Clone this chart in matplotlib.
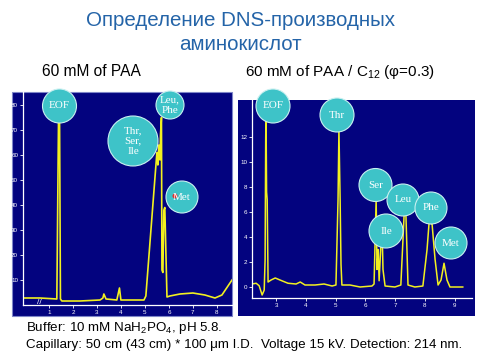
import matplotlib
matplotlib.use('Agg')
import matplotlib.pyplot as plt
from matplotlib.patches import Circle, Rectangle

plt.rcParams['font.family'] = ['Liberation Sans', 'DejaVu Sans']
plt.rcParams['mathtext.fontset'] = 'custom'
plt.rcParams['mathtext.rm'] = 'Liberation Sans'

# Left electropherogram: 60 mM PAA (trace vertices)
left_t = [-0.08, 0.63, 1.33, 1.40, 1.44, 1.48, 1.54, 2.29, 3.13, 3.25, 3.29, 3.38,
          3.83, 3.94, 4.00, 4.96, 5.04, 5.50, 5.54, 5.58, 5.63, 5.65, 5.69, 5.71,
          5.75, 5.79, 5.83, 5.92, 6.04, 6.46, 7.00, 7.50, 7.92, 8.21, 8.63]
left_s = [2.8, 2.8, 2.4, 74, 82, 2.4, 1.6, 1.6, 2.0, 2.8, 4.4, 2.4,
          2.0, 6.8, 2.0, 2.0, 3.6, 61, 56, 64, 58, 68, 75, 14,
          13, 38, 39, 3.2, 3.6, 4.4, 4.8, 4.0, 2.8, 4.0, 10]
left_yticks = [10, 20, 30, 40, 50, 60, 70, 80]
left_xticks = [1, 2, 3, 4, 5, 6, 7, 8]

# Right electropherogram: 60 mM PAA / C12
right_t = [2.19, 2.33, 2.43, 2.53, 2.60, 2.63, 2.65, 2.66, 2.68, 2.70, 2.73, 2.83,
           2.97, 3.13, 3.40, 3.67, 3.81, 3.97, 4.31, 4.61, 4.88, 5.01, 5.08, 5.11,
           5.15, 5.18, 5.21, 5.48, 5.82, 6.22, 6.29, 6.36, 6.39, 6.43, 6.46, 6.52,
           6.56, 6.59, 6.66, 6.99, 7.19, 7.30, 7.36, 7.43, 7.66, 7.93, 8.07, 8.14,
           8.24, 8.34, 8.44, 8.54, 8.64, 8.74, 8.84, 9.27]
right_s = [0.24, 0.3, 0.1, -0.64, -0.25, 2.2, 11.8, 14.2, 7.6, 7.0, 0.4, 0.56,
           0.72, 0.56, 0.3, 0.24, 0.4, 0.16, 0.16, 0.24, 0.08, 0.16, 7.0, 12.6,
           7.0, 1.8, 0.16, 0.16, 0.0, 0.08, 0.24, 7.0, 1.4, 3.0, 0.5, 3.4,
           4.6, 1.4, 0.08, 0.0, 0.16, 5.8, 5.8, 0.16, 0.0, 0.08, 3.0, 5.2,
           5.0, 2.2, 0.16, 0.56, 1.9, 0.56, 0.0, 0.0]
right_yticks = [0, 2, 4, 6, 8, 10, 12]
right_xticks = [3, 4, 5, 6, 7, 8, 9]

# peak labels: (text, x px, y px, radius px)
left_labels = [('EOF', 59.5, 106, 17), ('Thr,\nSer,\nIle', 133, 141, 25),
               ('Leu,\nPhe', 170, 105, 14), ('Met', 182, 197, 16)]
right_labels = [('EOF', 273, 106, 17), ('Thr', 337, 115, 17), ('Ser', 375.5, 185, 16.5),
                ('Leu', 403, 200, 16), ('Phe', 431, 208, 16), ('Ile', 386, 231, 17),
                ('Met', 451, 243, 16)]

NAVY = '#03037f'
YEL = '#f2f020'
TEAL = '#3ec3c8'
W, H = 480, 360

fig = plt.figure(figsize=(4.8, 3.6), dpi=100)


def px_axes(x0, y0, x1, y1, z):
    return fig.add_axes([x0 / W, 1 - y1 / H, (x1 - x0) / W, (y1 - y0) / H], zorder=z)


bg = px_axes(0, 0, W, H, 0)
bg.set_xlim(0, W)
bg.set_ylim(H, 0)
bg.axis('off')
bg.add_patch(Rectangle((12, 92), 220, 224, facecolor=NAVY, edgecolor='#7f86c8', lw=0.8))
bg.add_patch(Rectangle((238, 100), 237, 216, facecolor=NAVY, edgecolor='none'))
bg.text(39, 303, '//', color='white', fontsize=6, ha='center', va='center')


def style(ax, xt, yt):
    ax.set_facecolor('none')
    for s in ['top', 'right']:
        ax.spines[s].set_visible(False)
    for s in ['left', 'bottom']:
        ax.spines[s].set_color('white')
        ax.spines[s].set_linewidth(0.9)
    ax.set_xticks(xt)
    ax.set_yticks(yt)
    ax.tick_params(colors='white', labelsize=4.5, length=2, width=0.6, pad=1.5)


axL = px_axes(23, 92, 232, 305, 2)
axL.plot(left_t, left_s, color=YEL, lw=1.2)
axL.set_xlim(-0.08, 8.63)
axL.set_ylim(0, 85.2)
style(axL, left_xticks, left_yticks)

axR = px_axes(252, 100, 472, 298, 2)
axR.plot(right_t, right_s, color=YEL, lw=1.1)
axR.set_xlim(2.19, 9.58)
axR.set_ylim(-0.88, 14.96)
style(axR, right_xticks, right_yticks)

ov = px_axes(0, 0, W, H, 5)
ov.set_xlim(0, W)
ov.set_ylim(H, 0)
ov.axis('off')

for txt, cx, cy, r in left_labels + right_labels:
    ov.add_patch(Circle((cx, cy), r, facecolor=TEAL, edgecolor='#c8f0f0', lw=0.8))
    ov.text(cx, cy, txt, color='white', fontsize=8, family='Liberation Serif',
            ha='center', va='center', linespacing=1.15)
ov.add_patch(Circle((175, 196), 2.5, facecolor='#e03030', edgecolor='none'))

ov.text(240, 20, 'Определение DNS-производных', color='#2464a8', fontsize=14.8,
        ha='center', va='center')
ov.text(240, 45, 'аминокислот', color='#2464a8', fontsize=14.8, ha='center', va='center')
ov.text(42, 72, '60 mM of PAA', fontsize=11.2, ha='left', va='center')
ov.text(245, 72, r'60 mM of PAA / C$_{12}$ (φ=0.3)', fontsize=11, ha='left', va='center')
ov.text(26, 328, r'Buffer: 10 mM NaH$_2$PO$_4$, pH 5.8.', fontsize=9.6, ha='left', va='center')
ov.text(26, 345, 'Capillary: 50 cm (43 cm) * 100 μm I.D.  Voltage 15 kV. Detection: 214 nm.',
        fontsize=9.6, ha='left', va='center')

fig.savefig('out.png', dpi=100, facecolor='white')
